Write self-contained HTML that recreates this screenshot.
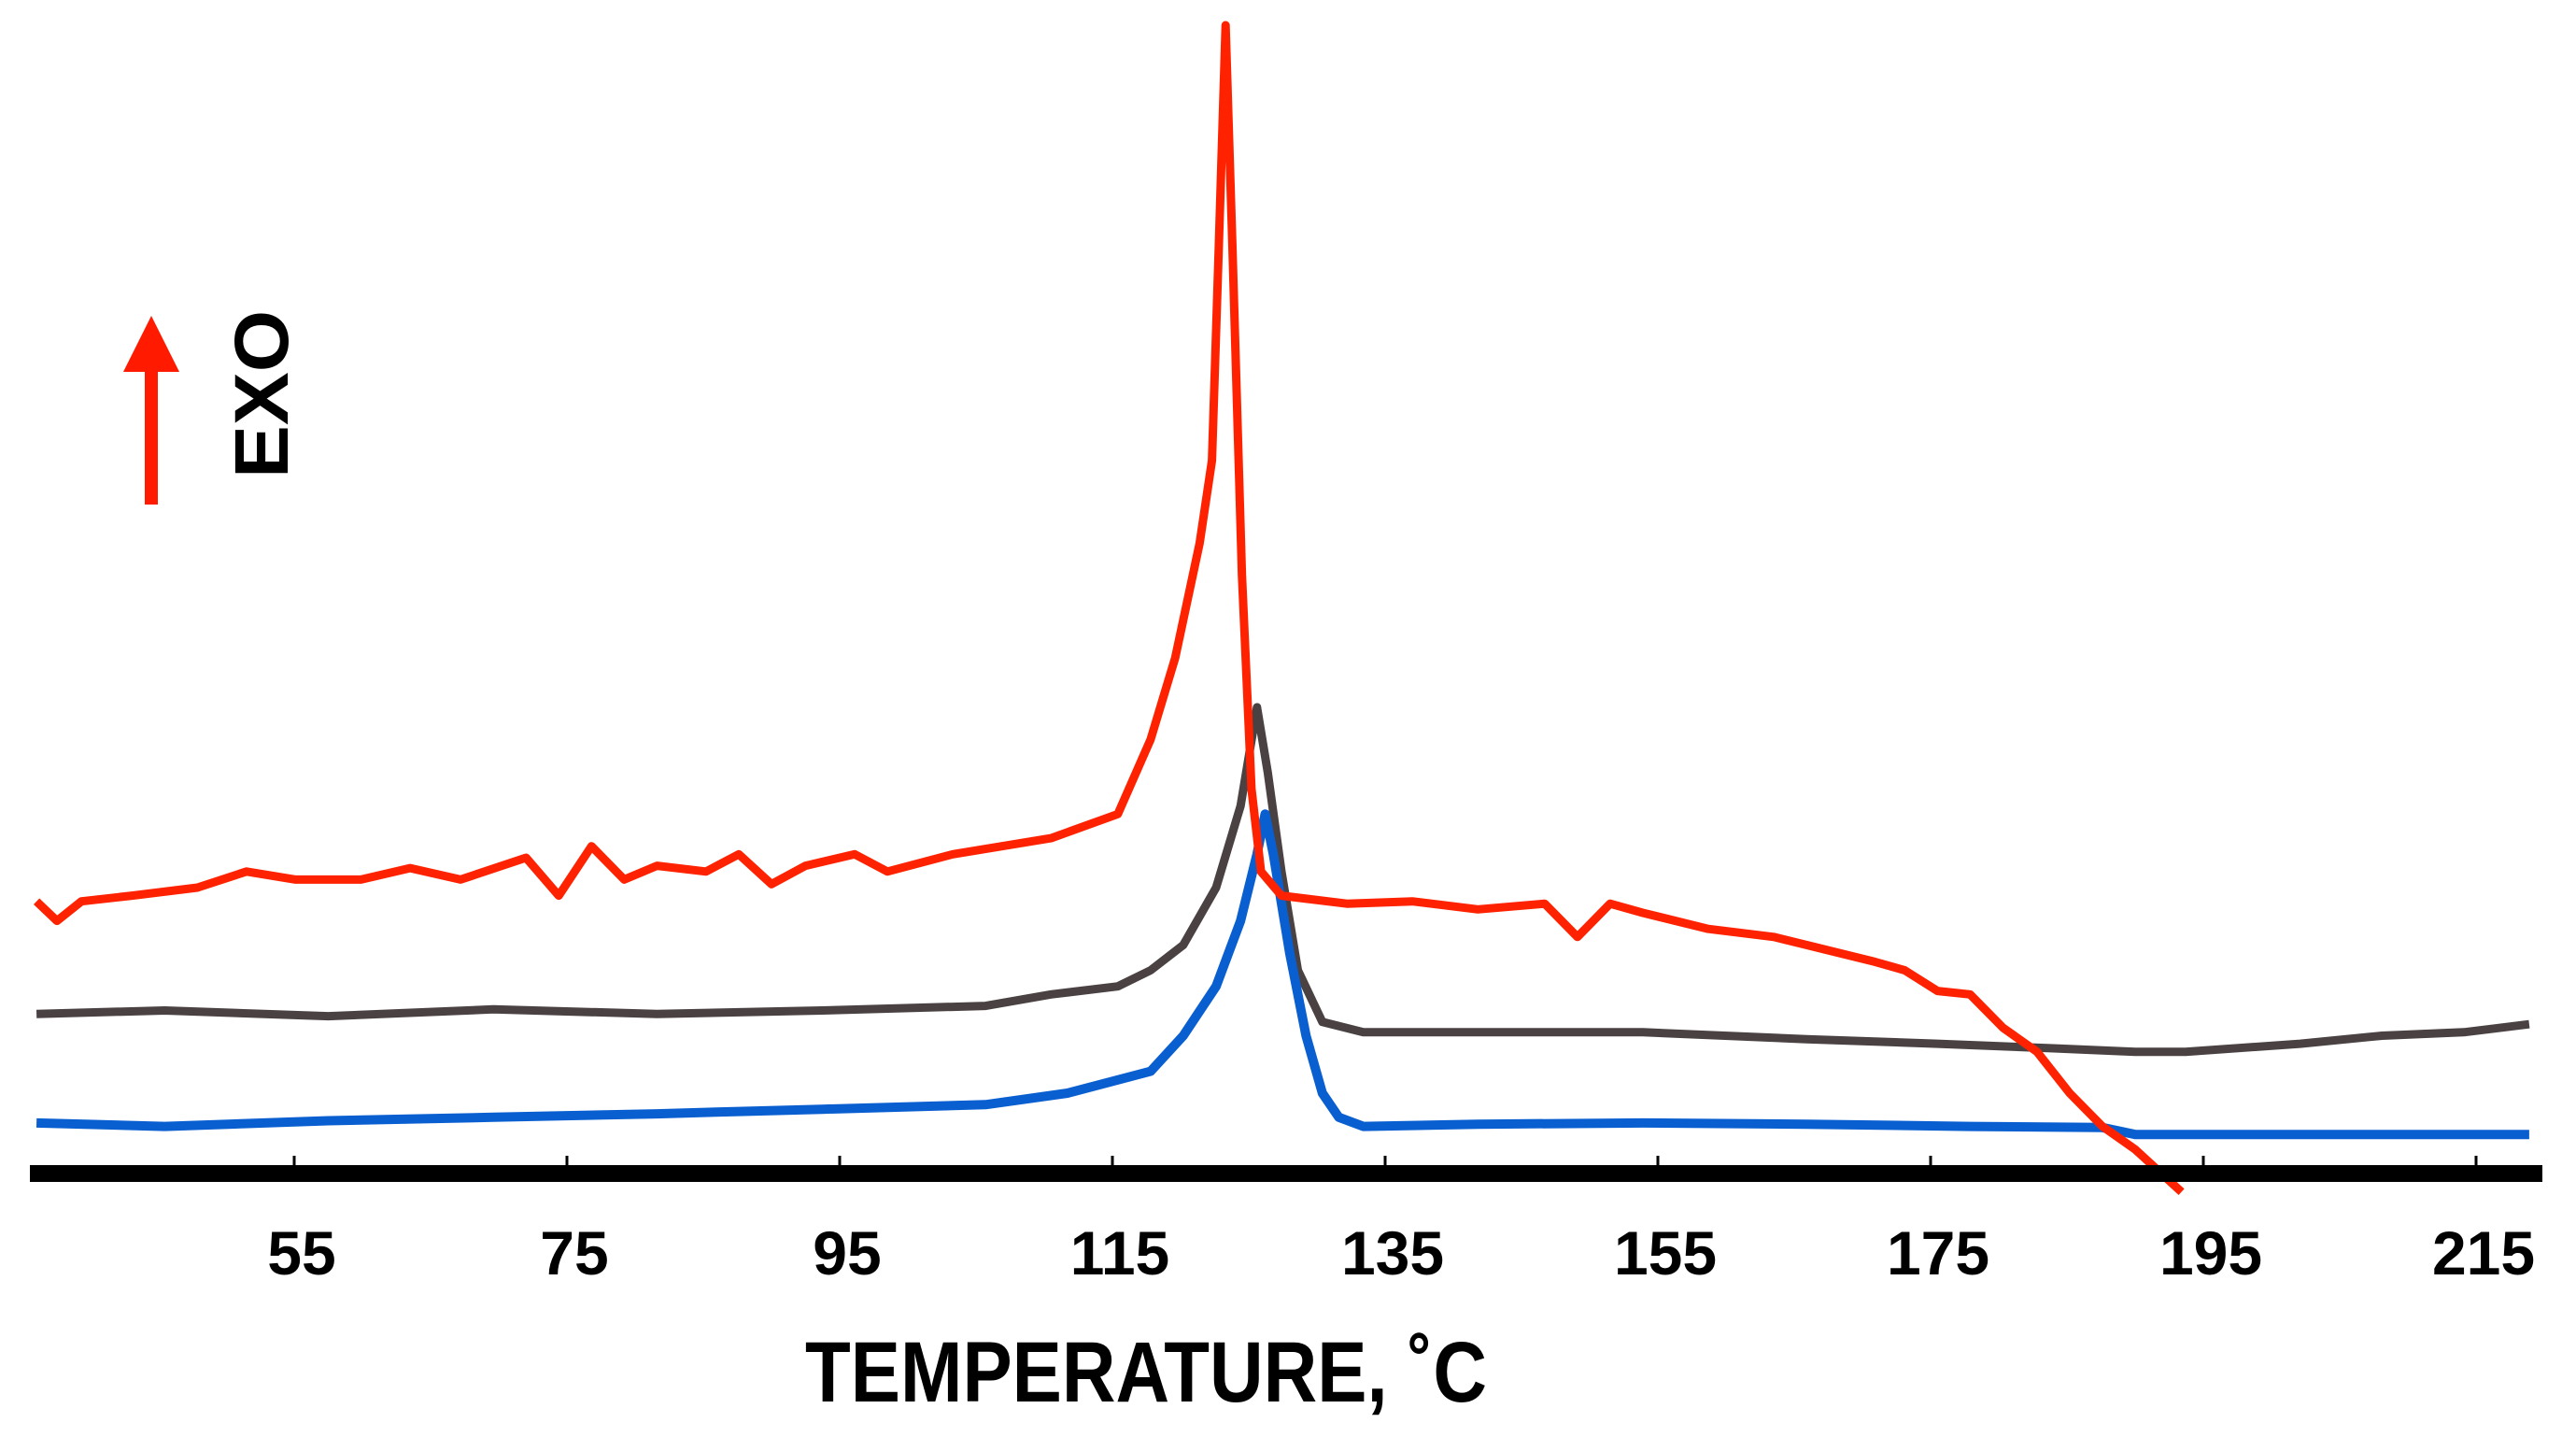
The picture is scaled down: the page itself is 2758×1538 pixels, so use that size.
<!DOCTYPE html>
<html><head><meta charset="utf-8"><style>
html,body{margin:0;padding:0;background:#fff;}
svg{display:block;}
text{font-family:"Liberation Sans",sans-serif;font-weight:bold;fill:#000;}
</style></head><body>
<svg id="chart" width="2758" height="1538" viewBox="0 0 2758 1538" xmlns="http://www.w3.org/2000/svg">
<g id="series"></g>
<rect x="32" y="1247" width="2690" height="18" fill="#000"/>
<g id="ticks"></g>
<text x="1227" y="1500" font-size="92" text-anchor="middle" textLength="730" lengthAdjust="spacingAndGlyphs">TEMPERATURE, ˚C</text>
<g>
<line x1="162" y1="540" x2="162" y2="380" stroke="#ff1a00" stroke-width="14"/>
<polygon points="132,398 162,338 192,398" fill="#ff1a00"/>
<text transform="translate(308,512) rotate(-90)" font-size="82" textLength="180" lengthAdjust="spacingAndGlyphs">EXO</text>
</g>
</svg>
<script>
const tickLabels = [55, 75, 95, 115, 135, 155, 175, 195, 215];
const redT = [36.1,37.6,39.4,43.1,47.9,51.5,55.1,59.9,63.5,67.2,72.0,74.4,76.8,79.2,81.6,85.2,87.6,90.0,92.5,96.1,98.5,103.3,106.9,110.5,115.4,117.8,119.6,121.4,122.3,122.8,123.3,123.8,124.5,125.2,125.9,127.4,132.2,137.0,141.8,146.7,149.1,151.5,153.9,158.7,163.5,165.9,170.7,173.1,175.5,177.9,180.3,182.8,185.2,187.6,190.0,193.4];
const redV = [23.7,22.0,23.7,24.2,24.9,26.3,25.6,25.6,26.6,25.6,27.5,24.2,28.5,25.6,26.8,26.3,27.8,25.2,26.8,27.8,26.3,27.8,28.5,29.2,31.3,37.8,44.9,54.9,62.1,80.7,100,80.7,52.1,33.5,26.3,24.2,23.5,23.7,23.0,23.5,20.6,23.5,22.7,21.3,20.6,19.9,18.5,17.7,15.9,15.6,12.7,10.6,7.0,4.1,2.1,-1.6];
const grayT = [36.1,45.5,57.5,69.6,81.6,93.7,105.7,110.5,115.4,117.8,120.2,122.6,124.4,125.6,126.4,127.4,128.6,130.4,133.4,141.8,153.9,165.9,175.5,184.0,190.0,193.7,202.1,208.1,214.1,218.9];
const grayV = [13.9,14.2,13.7,14.3,13.9,14.2,14.6,15.6,16.3,17.7,19.9,24.9,32.0,40.6,34.9,26.3,17.7,13.2,12.3,12.3,12.3,11.7,11.3,10.9,10.6,10.6,11.3,12.0,12.3,13.0];
const blueT = [36.1,45.5,57.5,69.6,81.6,87.6,93.7,105.7,111.7,117.8,120.2,122.6,124.4,125.6,126.2,126.8,128.0,129.2,130.4,131.6,133.4,141.8,153.9,165.9,177.9,187.6,190.0,218.9];
const blueV = [4.4,4.1,4.6,4.9,5.2,5.4,5.6,6.0,7.0,8.9,12.0,16.3,22.0,27.8,31.3,27.8,19.2,12.0,7.0,4.9,4.1,4.3,4.4,4.3,4.1,4.0,3.4,3.4];

const NS = 'http://www.w3.org/2000/svg';
function xScale(t){ return 315 + (t - 55) * 14.6; }
function yScale(v){ return 1256 - v * 12.29; }

const seriesG = document.getElementById('series');
function drawLine(ts, vs, color, w, name){
  const p = document.createElementNS(NS, 'path');
  let d = '';
  for (let i = 0; i < ts.length; i++) d += (i ? 'L' : 'M') + xScale(ts[i]).toFixed(1) + ',' + yScale(vs[i]).toFixed(1);
  p.setAttribute('d', d);
  p.setAttribute('fill', 'none');
  p.setAttribute('stroke', color);
  p.setAttribute('stroke-width', w);
  p.setAttribute('stroke-linejoin', 'round');
  
  
  seriesG.appendChild(p);
}
drawLine(grayT, grayV, '#4a4242', 9, 'gray-series-line');
drawLine(blueT, blueV, '#0a5fd0', 10, 'blue-series-line');
drawLine(redT, redV, '#ff2200', 9, 'red-series-line');

const tickG = document.getElementById('ticks');
tickLabels.forEach(function(t){
  const x = xScale(t);
  const l = document.createElementNS(NS, 'line');
  l.setAttribute('x1', x); l.setAttribute('x2', x);
  l.setAttribute('y1', 1237); l.setAttribute('y2', 1256);
  l.setAttribute('stroke', '#000'); l.setAttribute('stroke-width', 3);
  
  
  tickG.appendChild(l);
  const tx = document.createElementNS(NS, 'text');
  tx.setAttribute('x', x + 8);
  tx.setAttribute('y', 1364);
  tx.setAttribute('font-size', '66');
  tx.setAttribute('text-anchor', 'middle');
  tx.textContent = String(t);
  
  
  tickG.appendChild(tx);
});
</script>
</body></html>
